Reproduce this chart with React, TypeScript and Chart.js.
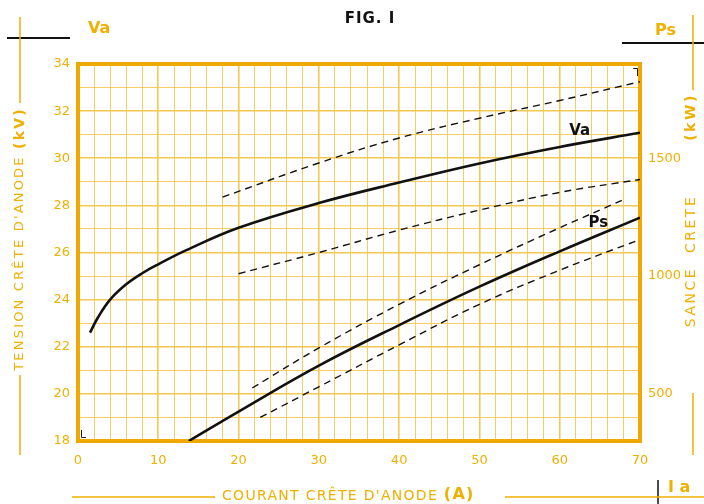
import React, { useEffect, useRef } from "react";
import { Chart, registerables } from "chart.js";

Chart.register(...registerables);

// Anode peak current (A) vs anode peak voltage (kV)
const vaSolidX = [1.5, 2.5, 4, 6, 8, 10, 13.5, 20, 30, 40, 50, 60, 70];
const vaSolidY = [22.6, 23.25, 24.0, 24.65, 25.12, 25.5, 26.1, 27.05, 28.1, 28.97, 29.78, 30.48, 31.08];
const vaUpperX = [18, 30, 40, 50, 60, 70];
const vaUpperY = [28.35, 29.8, 30.86, 31.7, 32.45, 33.25];
const vaLowerX = [20, 30, 40, 50, 60, 70];
const vaLowerY = [25.1, 26.0, 26.95, 27.8, 28.55, 29.1];
// Peak power (kW), right axis
const psSolidX = [13.8, 20, 30, 40, 50, 60, 70];
const psSolidY = [300, 425, 620, 792, 955, 1105, 1248];
const psUpperX = [21.7, 30, 40, 50, 60, 68];
const psUpperY = [525, 695, 880, 1048, 1205, 1325];
const psLowerX = [22.7, 30, 40, 50, 60, 70];
const psLowerY = [400, 530, 708, 880, 1025, 1155];

const xTickLabels = [0, 10, 20, 30, 40, 50, 60, 70];
const yTickLabels = [18, 20, 22, 24, 26, 28, 30, 32, 34];
const y2TickLabels = [500, 1000, 1500];

const ORANGE = "#f0b000";
const GRID = "#f3c850";
const BORDER = "#eea800";

const pts = (xs: number[], ys: number[]) => xs.map((x, i) => ({ x, y: ys[i] }));

export default function App() {
  const ref = useRef<HTMLCanvasElement>(null);
  useEffect(() => {
    document.body.style.margin = "0";
    const canvas = ref.current!;
    const decor = {
      id: "decor",
      beforeDraw(chart: any) {
        const c = chart.ctx;
        c.save();
        c.fillStyle = "#ffffff";
        c.fillRect(0, 0, chart.width, chart.height);
        c.restore();
      },
      beforeDatasetsDraw(chart: any) {
        const c = chart.ctx;
        const a = chart.chartArea;
        c.save();
        c.strokeStyle = BORDER;
        c.lineWidth = 4;
        c.strokeRect(a.left, a.top, a.right - a.left, a.bottom - a.top);
        c.strokeStyle = "#222";
        c.lineWidth = 1;
        c.beginPath();
        c.moveTo(81.5, 430); c.lineTo(81.5, 437.5); c.lineTo(86, 437.5);
        c.moveTo(633, 68.5); c.lineTo(637.5, 68.5); c.lineTo(637.5, 76);
        c.stroke();
        c.restore();
      },
      afterDraw(chart: any) {
        const c = chart.ctx;
        const xs = chart.scales.x;
        const ys = chart.scales.y;
        c.save();
        c.fillStyle = "#111";
        c.font = "bold 15px 'DejaVu Sans'";
        c.textAlign = "center";
        c.textBaseline = "middle";
        c.fillText("Va", xs.getPixelForValue(62.5), ys.getPixelForValue(31.15));
        c.fillText("Ps", xs.getPixelForValue(64.8), ys.getPixelForValue(27.25));
        (c as any).letterSpacing = "1px";
        c.fillText("FIG. I", 370, 19);
        (c as any).letterSpacing = "0px";

        c.fillStyle = ORANGE;
        c.font = "bold 16px 'DejaVu Sans'";
        c.textAlign = "left";
        c.fillText("Va", 88, 29);
        c.fillText("Ps", 655, 31);
        c.fillText("I a", 668, 488);

        c.strokeStyle = "#111";
        c.lineWidth = 2;
        c.beginPath();
        c.moveTo(7, 38); c.lineTo(70, 38);
        c.moveTo(622, 43); c.lineTo(704, 43);
        c.stroke();
        c.lineWidth = 1.5;
        c.beginPath();
        c.moveTo(658, 480); c.lineTo(658, 504);
        c.stroke();

        c.strokeStyle = ORANGE;
        c.lineWidth = 1.5;
        c.beginPath();
        c.moveTo(20, 17); c.lineTo(20, 103);
        c.moveTo(20, 375); c.lineTo(20, 455);
        c.moveTo(693, 15); c.lineTo(693, 90);
        c.moveTo(693, 393); c.lineTo(693, 455);
        c.moveTo(72, 497); c.lineTo(215, 497);
        c.moveTo(505, 497); c.lineTo(704, 497);
        c.stroke();

        c.save();
        c.translate(20, 239);
        c.rotate(-Math.PI / 2);
        c.textAlign = "left";
        c.textBaseline = "middle";
        (c as any).letterSpacing = "2.2px";
        const t1 = "TENSION CRÊTE D'ANODE ";
        c.font = "bold 14px 'DejaVu Sans'";
        const t2 = "(kV)";
        const w2 = c.measureText(t2).width;
        c.font = "13px 'DejaVu Sans'";
        const w1 = c.measureText(t1).width;
        const sx = -(w1 + w2) / 2;
        c.fillText(t1, sx, 0);
        c.font = "bold 14px 'DejaVu Sans'";
        c.fillText(t2, sx + w1, 0);
        c.restore();

        c.save();
        c.translate(691, 0);
        c.rotate(-Math.PI / 2);
        c.textAlign = "center";
        c.textBaseline = "middle";
        c.font = "14px 'DejaVu Sans'";
        (c as any).letterSpacing = "2.5px";
        c.fillText("SANCE  CRETE", -261, 0);
        c.font = "bold 14px 'DejaVu Sans'";
        c.fillText("(kW)", -117, 0);
        c.restore();

        c.textAlign = "left";
        c.textBaseline = "middle";
        c.font = "14px 'DejaVu Sans'";
        (c as any).letterSpacing = "1.3px";
        const b1 = "COURANT CRÊTE D'ANODE ";
        const bw = c.measureText(b1).width;
        c.fillText(b1, 222, 496);
        c.font = "bold 16px 'DejaVu Sans'";
        c.fillText("(A)", 222 + bw, 495);
        c.restore();
      },
    };

    const solid = { borderColor: "#111", borderWidth: 2.6, pointRadius: 0, showLine: true, tension: 0.4 };
    const dashed = { borderColor: "#111", borderWidth: 1.4, borderDash: [7, 5], pointRadius: 0, showLine: true, tension: 0.4 };

    const chart = new Chart(canvas, {
      type: "scatter",
      data: {
        datasets: [
          { ...solid, label: "Va", data: pts(vaSolidX, vaSolidY), yAxisID: "y" },
          { ...dashed, label: "Va max", data: pts(vaUpperX, vaUpperY), yAxisID: "y" },
          { ...dashed, label: "Va min", data: pts(vaLowerX, vaLowerY), yAxisID: "y" },
          { ...solid, label: "Ps", data: pts(psSolidX, psSolidY), yAxisID: "y2" },
          { ...dashed, label: "Ps max", data: pts(psUpperX, psUpperY), yAxisID: "y2" },
          { ...dashed, label: "Ps min", data: pts(psLowerX, psLowerY), yAxisID: "y2" },
        ],
      },
      options: {
        responsive: false,
        animation: false,
        layout: { padding: { top: 64, left: 0, right: 0, bottom: 0 } },
        plugins: { legend: { display: false }, tooltip: { enabled: false }, title: { display: false } },
        scales: {
          x: {
            type: "linear",
            min: 0,
            max: 70,
            border: { display: false },
            afterFit: (s: any) => { s.height = 63; },
            afterBuildTicks: (s: any) => {
              const t = [];
              for (let v = 0; v <= 70; v += 2) t.push({ value: v });
              s.ticks = t;
            },
            grid: {
              drawTicks: false,
              color: GRID,
              lineWidth: (ctx: any) => (ctx.tick && ctx.tick.value % 10 === 0 ? 1.6 : 0.9),
            },
            ticks: {
              color: ORANGE,
              padding: 12,
              font: { family: "'DejaVu Sans'", size: 13 },
              maxRotation: 0,
              autoSkip: false,
              callback: (v: any) => (xTickLabels.includes(Number(v)) ? String(v) : ""),
            },
          },
          y: {
            type: "linear",
            position: "left",
            min: 18,
            max: 34,
            border: { display: false },
            afterFit: (s: any) => { s.width = 78; },
            afterBuildTicks: (s: any) => {
              const t = [];
              for (let v = 18; v <= 34; v += 1) t.push({ value: v });
              s.ticks = t;
            },
            grid: {
              drawTicks: false,
              color: GRID,
              lineWidth: (ctx: any) => (ctx.tick && ctx.tick.value % 2 === 0 ? 1.6 : 0.9),
            },
            ticks: {
              color: ORANGE,
              padding: 8,
              font: { family: "'DejaVu Sans'", size: 13 },
              autoSkip: false,
              callback: (v: any) => (yTickLabels.includes(Number(v)) ? String(v) : ""),
            },
          },
          y2: {
            type: "linear",
            position: "right",
            min: 300,
            max: 1900,
            border: { display: false },
            afterFit: (s: any) => { s.width = 64; },
            afterBuildTicks: (s: any) => {
              s.ticks = y2TickLabels.map((v) => ({ value: v }));
            },
            grid: { display: false, drawTicks: false },
            ticks: {
              color: ORANGE,
              padding: 8,
              font: { family: "'DejaVu Sans'", size: 13 },
              autoSkip: false,
              callback: (v: any) => String(v),
            },
          },
        },
      },
      plugins: [decor],
    });
    return () => chart.destroy();
  }, []);
  return (
    <div style={{ width: 704, height: 504 }}>
      <canvas ref={ref} width={704} height={504} style={{ display: "block" }} />
    </div>
  );
}
